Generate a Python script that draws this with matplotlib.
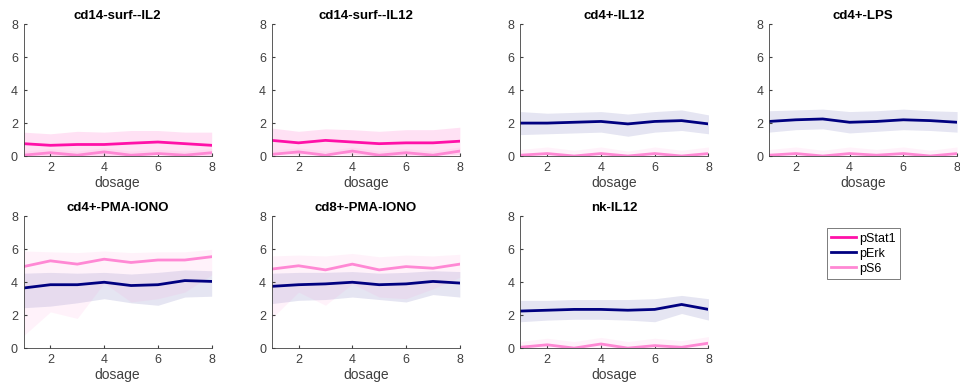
import numpy as np
import matplotlib
matplotlib.use("Agg")
import matplotlib.pyplot as plt

plt.rcParams["font.family"] = ["Liberation Sans", "DejaVu Sans"]

dosage = [1, 2, 3, 4, 5, 6, 7, 8]
panels = ["cd14-surf--IL2", "cd14-surf--IL12", "cd4+-IL12", "cd4+-LPS",
          "cd4+-PMA-IONO", "cd8+-PMA-IONO", "nk-IL12"]
markers = ["pStat1", "pErk", "pS6"]

# (mean, lower, upper) per panel and marker
pstat1 = {
    "cd14-surf--IL2": ([0.75, 0.65, 0.7, 0.7, 0.78, 0.85, 0.75, 0.65],
                       [0.05, 0.0, 0.0, 0.0, 0.0, 0.1, 0.05, 0.0],
                       [1.45, 1.35, 1.5, 1.45, 1.55, 1.55, 1.45, 1.45]),
    "cd14-surf--IL12": ([0.95, 0.8, 0.95, 0.85, 0.75, 0.8, 0.8, 0.9],
                        [0.2, 0.1, 0.2, 0.1, 0.0, 0.05, 0.05, 0.1],
                        [1.7, 1.5, 1.65, 1.6, 1.5, 1.6, 1.6, 1.75]),
}
perk = {
    "cd4+-IL12": ([2.0, 2.0, 2.05, 2.1, 1.95, 2.1, 2.15, 1.95],
                  [1.3, 1.35, 1.4, 1.45, 1.2, 1.45, 1.55, 1.35],
                  [2.7, 2.6, 2.65, 2.7, 2.55, 2.7, 2.8, 2.5]),
    "cd4+-LPS": ([2.1, 2.2, 2.25, 2.05, 2.1, 2.2, 2.15, 2.05],
                 [1.45, 1.6, 1.65, 1.4, 1.5, 1.6, 1.55, 1.45],
                 [2.75, 2.8, 2.85, 2.7, 2.75, 2.85, 2.75, 2.7]),
    "cd4+-PMA-IONO": ([3.65, 3.85, 3.85, 4.0, 3.8, 3.85, 4.1, 4.05],
                      [2.45, 2.55, 2.75, 3.0, 2.75, 2.6, 3.1, 3.15],
                      [4.55, 4.6, 4.55, 4.6, 4.5, 4.6, 4.75, 4.7]),
    "cd8+-PMA-IONO": ([3.75, 3.85, 3.9, 4.0, 3.85, 3.9, 4.05, 3.95],
                      [2.7, 2.9, 2.95, 3.1, 2.95, 2.8, 3.25, 3.1],
                      [4.55, 4.6, 4.6, 4.65, 4.55, 4.6, 4.7, 4.65]),
    "nk-IL12": ([2.25, 2.3, 2.35, 2.35, 2.3, 2.35, 2.65, 2.35],
                [1.6, 1.7, 1.75, 1.75, 1.7, 1.6, 2.1, 1.7],
                [2.9, 2.9, 2.95, 2.95, 2.95, 3.0, 3.2, 3.0]),
}
ps6 = {
    "cd14-surf--IL2": ([0.05, 0.2, 0.05, 0.25, 0.05, 0.15, 0.05, 0.2],
                       [0.0, 0.0, 0.0, 0.0, 0.0, 0.0, 0.0, 0.0],
                       [0.3, 0.45, 0.3, 0.5, 0.3, 0.4, 0.3, 0.45]),
    "cd14-surf--IL12": ([0.1, 0.25, 0.05, 0.3, 0.05, 0.2, 0.05, 0.3],
                        [0.0, 0.0, 0.0, 0.0, 0.0, 0.0, 0.0, 0.0],
                        [0.35, 0.5, 0.3, 0.55, 0.3, 0.45, 0.3, 0.55]),
    "cd4+-IL12": ([0.05, 0.15, 0.0, 0.15, 0.0, 0.15, 0.0, 0.15],
                  [0.0, 0.0, 0.0, 0.0, 0.0, 0.0, 0.0, 0.0],
                  [0.4, 0.55, 0.35, 0.55, 0.3, 0.55, 0.35, 0.55]),
    "cd4+-LPS": ([0.05, 0.15, 0.0, 0.15, 0.05, 0.15, 0.0, 0.15],
                 [0.0, 0.0, 0.0, 0.0, 0.0, 0.0, 0.0, 0.0],
                 [0.4, 0.55, 0.35, 0.55, 0.4, 0.55, 0.35, 0.55]),
    "cd4+-PMA-IONO": ([4.95, 5.3, 5.1, 5.4, 5.2, 5.35, 5.35, 5.55],
                      [0.75, 2.2, 1.8, 3.95, 2.8, 3.0, 3.4, 4.45],
                      [5.9, 5.85, 5.8, 5.9, 5.8, 5.85, 5.85, 6.0]),
    "cd8+-PMA-IONO": ([4.8, 5.0, 4.75, 5.1, 4.75, 4.95, 4.85, 5.1],
                      [1.8, 3.4, 2.6, 3.9, 3.1, 3.0, 3.6, 4.3],
                      [5.6, 5.65, 5.6, 5.75, 5.55, 5.65, 5.6, 5.7]),
    "nk-IL12": ([0.05, 0.2, 0.0, 0.25, 0.0, 0.15, 0.05, 0.3],
                [0.0, 0.0, 0.0, 0.0, 0.0, 0.0, 0.0, 0.0],
                [0.4, 0.6, 0.4, 0.65, 0.4, 0.6, 0.45, 0.7]),
}

series = [("pStat1", pstat1, "#ff10a8", 0.12),
          ("pErk", perk, "#000080", 0.1),
          ("pS6", ps6, "#ff88d4", 0.1)]

fig = plt.figure(figsize=(9.6, 3.92), dpi=100)
lefts = [0.0245, 0.283, 0.542, 0.801]
bottoms = [0.602, 0.112]
w, h = 0.196, 0.336
axcol = "#404040"

for i, name in enumerate(panels):
    ax = fig.add_axes([lefts[i % 4], bottoms[i // 4], w, h])
    for label, data, col, a in series:
        if name not in data:
            continue
        m, lo, hi = data[name]
        ax.fill_between(dosage, lo, hi, color=col, alpha=a, lw=0)
        ax.plot(dosage, m, color=col, lw=2)
    ax.set_xlim(1, 8)
    ax.set_ylim(0, 8)
    ax.set_xticks([2, 4, 6, 8])
    ax.set_yticks([0, 2, 4, 6, 8])
    ax.tick_params(direction="in", length=2.5, labelsize=9, colors=axcol,
                   pad=4)
    for s in ["top", "right"]:
        ax.spines[s].set_visible(False)
    for s in ["left", "bottom"]:
        ax.spines[s].set_color(axcol)
        ax.spines[s].set_linewidth(0.6)
    ax.set_xlabel("dosage", fontsize=10, color=axcol, labelpad=2)
    ax.set_title(name, fontsize=9.5, fontweight="bold", pad=4)

handles = [plt.Line2D([], [], color=col, lw=2, label=label)
           for label, data, col, a in series]
leg = fig.legend(handles=handles, loc="upper left",
                 bbox_to_anchor=(0.8615, 0.418), fontsize=9, frameon=True,
                 fancybox=False, edgecolor="#404040", handlelength=2.0,
                 handletextpad=0.2, borderpad=0.35, labelspacing=0.25,
                 borderaxespad=0)
leg.get_frame().set_linewidth(0.6)

fig.savefig("out.png", dpi=100)
